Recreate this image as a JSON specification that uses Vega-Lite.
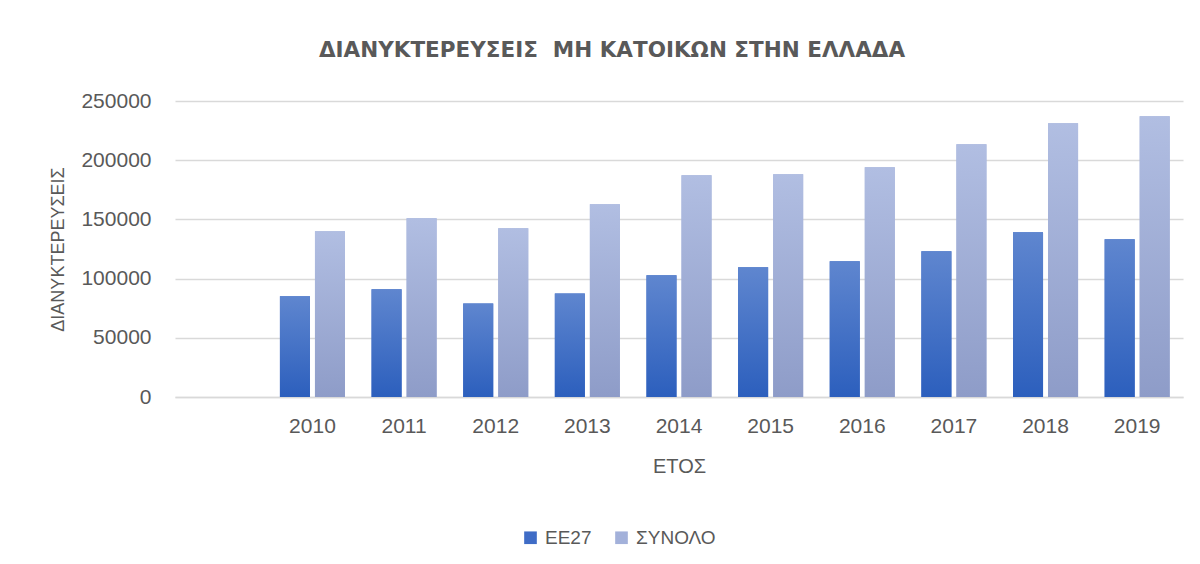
{
  "$schema": "https://vega.github.io/schema/vega-lite/v6.json",
  "width": 1008,
  "height": 296,
  "autosize": {"type": "none"},
  "padding": {"left": 175, "top": 101, "right": 17, "bottom": 167},
  "background": "white",
  "title": {
    "text": "ΔΙΑΝΥΚΤΕΡΕΥΣΕΙΣ \u00a0ΜΗ ΚΑΤΟΙΚΩΝ ΣΤΗΝ ΕΛΛΑΔΑ",
    "font": "DejaVu Sans",
    "fontSize": 21.5,
    "fontWeight": "bold",
    "color": "#595959",
    "anchor": "middle",
    "frame": "group",
    "dx": -67,
    "baseline": "alphabetic",
    "offset": 12
  },
  "config": {
    "view": {"stroke": null},
    "font": "Liberation Sans",
    "axis": {"labelFont": "Liberation Sans", "titleFont": "Liberation Sans"},
    "legend": {"labelFont": "Liberation Sans"}
  },
  "data": {
    "values": [
      {"year": "2010", "series": "ΕΕ27", "value": 85000},
      {"year": "2011", "series": "ΕΕ27", "value": 91000},
      {"year": "2012", "series": "ΕΕ27", "value": 79000},
      {"year": "2013", "series": "ΕΕ27", "value": 87500},
      {"year": "2014", "series": "ΕΕ27", "value": 102800},
      {"year": "2015", "series": "ΕΕ27", "value": 109500},
      {"year": "2016", "series": "ΕΕ27", "value": 114600},
      {"year": "2017", "series": "ΕΕ27", "value": 123000},
      {"year": "2018", "series": "ΕΕ27", "value": 139100},
      {"year": "2019", "series": "ΕΕ27", "value": 133200},
      {"year": "2010", "series": "ΣΥΝΟΛΟ", "value": 140000},
      {"year": "2011", "series": "ΣΥΝΟΛΟ", "value": 151000},
      {"year": "2012", "series": "ΣΥΝΟΛΟ", "value": 142500},
      {"year": "2013", "series": "ΣΥΝΟΛΟ", "value": 162700},
      {"year": "2014", "series": "ΣΥΝΟΛΟ", "value": 187300},
      {"year": "2015", "series": "ΣΥΝΟΛΟ", "value": 188100},
      {"year": "2016", "series": "ΣΥΝΟΛΟ", "value": 194000},
      {"year": "2017", "series": "ΣΥΝΟΛΟ", "value": 213400},
      {"year": "2018", "series": "ΣΥΝΟΛΟ", "value": 231200},
      {"year": "2019", "series": "ΣΥΝΟΛΟ", "value": 237100}
    ]
  },
  "encoding": {
    "x": {
      "field": "year",
      "type": "nominal",
      "scale": {
        "domain": ["", "2010", "2011", "2012", "2013", "2014", "2015", "2016", "2017", "2018", "2019"],
        "paddingInner": 0.29,
        "paddingOuter": 0.145
      },
      "axis": {
        "title": "ΕΤΟΣ",
        "titleFontSize": 20,
        "titleFontWeight": "normal",
        "titleColor": "#595959",
        "titleBaseline": "middle",
        "titleY": 69,
        "labelAngle": 0,
        "labelFontSize": 21,
        "labelColor": "#595959",
        "labelPadding": 18,
        "ticks": false,
        "tickSize": 0,
        "domainColor": "#d9d9d9",
        "domainWidth": 1.5,
        "grid": false
      }
    },
    "xOffset": {
      "field": "series",
      "type": "nominal",
      "scale": {"domain": ["ΕΕ27", "ΣΥΝΟΛΟ"], "paddingInner": 0.143, "paddingOuter": 0}
    },
    "y": {
      "field": "value",
      "type": "quantitative",
      "scale": {"domain": [0, 250000], "nice": false},
      "axis": {
        "title": "ΔΙΑΝΥΚΤΕΡΕΥΣΕΙΣ",
        "titleFontSize": 18,
        "titleFontWeight": "normal",
        "titleColor": "#595959",
        "titleAngle": -90,
        "titleAlign": "center",
        "titleBaseline": "middle",
        "titleX": -117,
        "titleY": 148,
        "values": [0, 50000, 100000, 150000, 200000, 250000],
        "format": "d",
        "labelFontSize": 21,
        "labelColor": "#595959",
        "labelPadding": 24,
        "ticks": false,
        "tickSize": 0,
        "domain": false,
        "grid": true,
        "gridColor": "#d9d9d9",
        "gridWidth": 1.5
      }
    }
  },
  "layer": [
    {
      "mark": {"type": "bar"},
      "encoding": {
        "color": {
          "field": "series",
          "type": "nominal",
          "scale": {"domain": ["ΕΕ27", "ΣΥΝΟΛΟ"], "range": ["#3f6cc6", "#a3b1da"]},
          "legend": {
            "title": null,
            "orient": "none",
            "legendX": 346,
            "legendY": 427,
            "direction": "horizontal",
            "symbolType": "square",
            "symbolSize": 160,
            "symbolStrokeWidth": 0,
            "symbolOpacity": 1,
            "labelFontSize": 19,
            "labelColor": "#595959",
            "labelOffset": 5,
            "columnPadding": 20
          }
        }
      }
    },
    {
      "transform": [{"filter": "datum.series === 'ΕΕ27'"}],
      "mark": {
        "type": "bar",
        "color": {"gradient": "linear", "x1": 0, "y1": 0, "x2": 0, "y2": 1, "stops": [{"offset": 0, "color": "#5f86cf"}, {"offset": 1, "color": "#2c5fbd"}]}
      }
    },
    {
      "transform": [{"filter": "datum.series === 'ΣΥΝΟΛΟ'"}],
      "mark": {
        "type": "bar",
        "color": {"gradient": "linear", "x1": 0, "y1": 0, "x2": 0, "y2": 1, "stops": [{"offset": 0, "color": "#b1bee2"}, {"offset": 1, "color": "#8e9cc8"}]}
      }
    }
  ]
}
